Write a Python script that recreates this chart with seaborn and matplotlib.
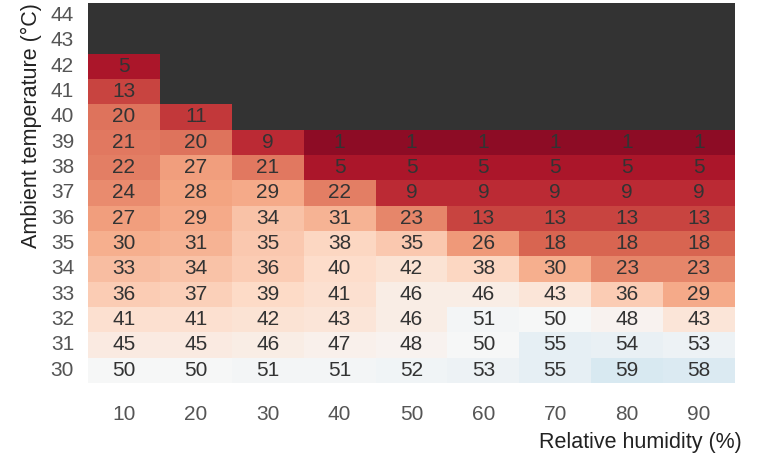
import numpy as np
import pandas as pd
import matplotlib
matplotlib.use("Agg")
import matplotlib.pyplot as plt
import seaborn as sns

# Relative humidity (%) along x, ambient temperature (°C) along y
humidity = [10, 20, 30, 40, 50, 60, 70, 80, 90]
temperature = [44, 43, 42, 41, 40, 39, 38, 37, 36, 35, 34, 33, 32, 31, 30]

nan = np.nan
row_44 = [nan, nan, nan, nan, nan, nan, nan, nan, nan]
row_43 = [nan, nan, nan, nan, nan, nan, nan, nan, nan]
row_42 = [5, nan, nan, nan, nan, nan, nan, nan, nan]
row_41 = [13, nan, nan, nan, nan, nan, nan, nan, nan]
row_40 = [20, 11, nan, nan, nan, nan, nan, nan, nan]
row_39 = [21, 20, 9, 1, 1, 1, 1, 1, 1]
row_38 = [22, 27, 21, 5, 5, 5, 5, 5, 5]
row_37 = [24, 28, 29, 22, 9, 9, 9, 9, 9]
row_36 = [27, 29, 34, 31, 23, 13, 13, 13, 13]
row_35 = [30, 31, 35, 38, 35, 26, 18, 18, 18]
row_34 = [33, 34, 36, 40, 42, 38, 30, 23, 23]
row_33 = [36, 37, 39, 41, 46, 46, 43, 36, 29]
row_32 = [41, 41, 42, 43, 46, 51, 50, 48, 43]
row_31 = [45, 45, 46, 47, 48, 50, 55, 54, 53]
row_30 = [50, 50, 51, 51, 52, 53, 55, 59, 58]

rows = [row_44, row_43, row_42, row_41, row_40, row_39, row_38, row_37,
        row_36, row_35, row_34, row_33, row_32, row_31, row_30]
df = pd.DataFrame(rows, index=temperature, columns=humidity)

sns.set_theme(style="white")
plt.rcParams["font.family"] = ["Liberation Sans", "DejaVu Sans"]

fig = plt.figure(figsize=(7.61, 4.59), dpi=100)
ax = fig.add_axes([88 / 761, 1 - 383 / 459, 647 / 761, 380 / 459])
ax.set_facecolor("#333333")

sns.heatmap(df, ax=ax, cmap="RdBu", vmin=-5, vmax=105, cbar=False,
            annot=True, fmt=".0f",
            annot_kws={"fontsize": 15, "color": "#333333"})

ax.tick_params(axis="both", length=0, labelsize=15, labelcolor="#555555")
ax.tick_params(axis="x", pad=16)
ax.tick_params(axis="y", pad=10)
plt.setp(ax.get_yticklabels(), rotation=0)
plt.setp(ax.get_xticklabels(), rotation=0)

ax.set_xlabel("Relative humidity (%)", fontsize=15.5, color="#222222")
ax.xaxis.set_label_coords(1.011, -0.13)
ax.xaxis.label.set_horizontalalignment("right")
ax.set_ylabel("Ambient temperature (°C)", fontsize=15.5, color="#222222",
              loc="top", labelpad=6)

for s in ax.spines.values():
    s.set_visible(False)

fig.savefig("out.png", dpi=100)
